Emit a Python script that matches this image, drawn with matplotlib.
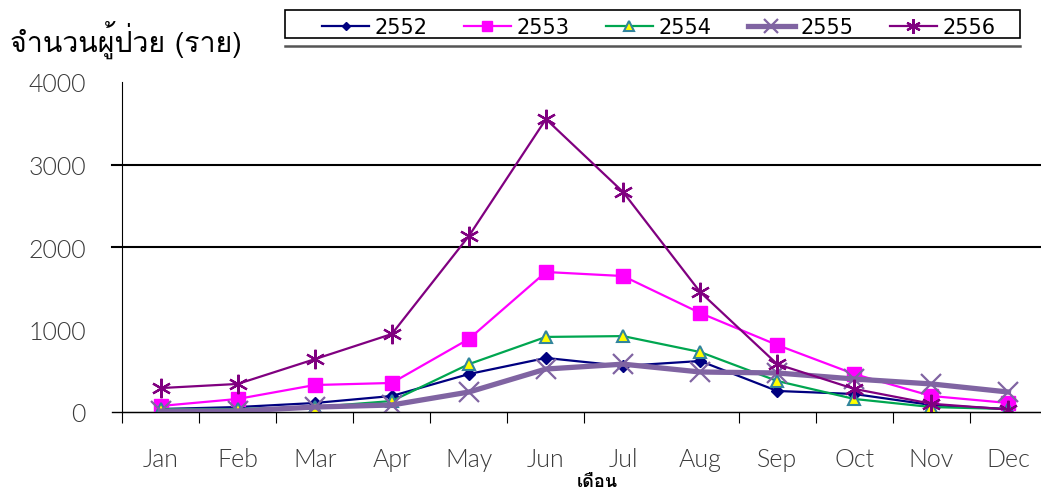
import matplotlib
matplotlib.use('Agg')
import matplotlib.pyplot as plt
from matplotlib.lines import Line2D
from matplotlib.patches import Rectangle

# ฟอนต์ภาษาไทย
plt.rcParams['font.family'] = ['Loma', 'DejaVu Sans']

months = ['Jan', 'Feb', 'Mar', 'Apr', 'May', 'Jun', 'Jul', 'Aug', 'Sep', 'Oct', 'Nov', 'Dec']
y2552 = [36, 60, 109, 194, 460, 655, 558, 618, 255, 218, 85, 36]
y2553 = [73, 158, 327, 352, 885, 1697, 1648, 1200, 812, 460, 194, 109]
y2554 = [36, 36, 60, 133, 580, 910, 920, 727, 376, 158, 60, 36]
y2555 = [10, 12, 60, 85, 242, 521, 580, 485, 473, 400, 340, 242]
y2556 = [290, 340, 640, 945, 2133, 3550, 2667, 1455, 580, 280, 100, 30]

fig = plt.figure(figsize=(10.41, 4.89), dpi=100)
ax = fig.add_axes([122 / 1041, 1 - 413 / 489, 925 / 1041, 330 / 489])

x = range(len(months))
ax.plot(x, y2552, color='#000080', lw=1.6, marker='D', ms=6, label='2552')
ax.plot(x, y2553, color='#FF00FF', lw=1.6, marker='s', ms=10, label='2553')
ax.plot(x, y2554, color='#00A650', lw=1.6, marker='^', ms=9, mfc='#FFFF00', mec='#31859C', mew=1.5, label='2554')
ax.plot(x, y2555, color='#8064A2', lw=3.8, marker='x', ms=14, mew=1.6, label='2555')
ax.plot(x, y2556, color='#800080', lw=1.6, marker=(6, 2, 0), ms=14, mew=1.6, label='2556')

ax.set_xlim(-0.5, 11.5)
ax.set_ylim(0, 4000)
ax.spines['top'].set_visible(False)
ax.spines['right'].set_visible(False)

# เส้นแบ่งที่ 2000, 3000 และขีดสั้นด้านซ้าย
for v in [0, 2000, 3000]:
    ax.axhline(v, xmin=-0.011, xmax=1, color='black', lw=1.5 if v else 1, clip_on=False, zorder=0.5)

ax.set_yticks([0, 1000, 2000, 3000, 4000])
ax.tick_params(axis='y', length=0, pad=26, labelsize=18, labelcolor='#3a3a3a')
ax.set_xticks([b - 0.5 for b in range(13) if b != 7])
ax.set_xticklabels([])
ax.set_xticks(list(x), minor=True)
ax.set_xticklabels(months, minor=True)
ax.tick_params(axis='x', which='major', length=8, direction='out')
ax.tick_params(axis='x', which='minor', length=0, pad=25, labelsize=18, labelcolor='#3a3a3a')
for t in ax.get_xticklabels(minor=True) + ax.get_yticklabels():
    t.set_family('Lato')
    t.set_fontweight(300)

fig.text(10 / 1041, 1 - 40 / 489, 'จำนวนผู้ป่วย (ราย)', fontsize=20.5, va='center', ha='left')
fig.text(597 / 1041, 1 - 482 / 489, 'เดือน', fontsize=13, fontweight='bold', va='center', ha='center')

# กรอบ legend
fig.patches.append(Rectangle((285 / 1041, 1 - 39 / 489), 735 / 1041, 28 / 489, transform=fig.transFigure,
                             fill=False, lw=1.2, ec='black'))
fig.add_artist(Line2D([285 / 1041, 1020 / 1041], [1 - 47 / 489] * 2, color='#555555', lw=1.8))
leg = fig.legend(loc='center', bbox_to_anchor=(659 / 1041, 1 - 28 / 489), ncol=5, frameon=False,
                 prop={'family': 'DejaVu Sans', 'size': 15}, handlelength=2.25, columnspacing=1.73,
                 handletextpad=0.29, markerscale=0.75)

fig.savefig('out.png', dpi=100)
